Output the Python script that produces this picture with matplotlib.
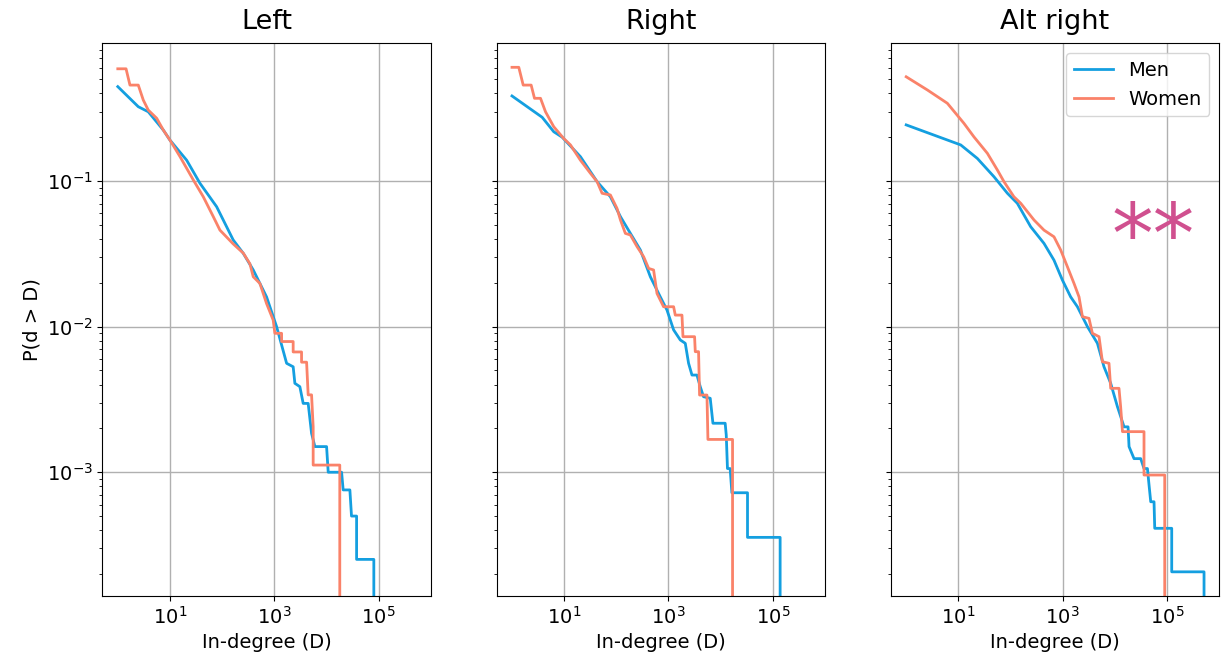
import matplotlib

matplotlib.use("Agg")
import matplotlib.pyplot as plt  # noqa: E402
from matplotlib.ticker import NullLocator  # noqa: E402

MEN_C = "#149fe0"
WOMEN_C = "#fa8269"
BOTTOM = 1e-9  # final drop of each CCDF runs off the bottom of the axes

# ── Left ──
left_men_x = [1, 2.47, 3.84, 7.45, 10, 20.9, 37.6, 78.5, 163, 254, 395, 711, 1107, 1722, 2300,
              2480, 3090, 3580, 4460, 5180, 6000, 10050, 10800, 19500, 20900, 28100, 30200, 37800,
              37800, 80900, 80900]
left_men_y = [0.445, 0.324, 0.299, 0.224, 0.191, 0.139, 0.0965, 0.0666, 0.0394, 0.0319, 0.0245,
              0.016, 0.01, 0.0056, 0.0053, 0.00408, 0.00387, 0.00297, 0.00297, 0.00185, 0.0015,
              0.0015, 0.001, 0.001, 0.000756, 0.000756, 0.0005, 0.0005, 0.000252, 0.000252, BOTTOM]
left_women_x = [1, 1.44, 1.71, 2.47, 3.08, 3.84, 5.56, 7.45, 10, 15.6, 27.9, 43.5, 67.6, 90.8,
                163, 254, 341, 395, 530, 711, 952, 1026, 1380, 1380, 2300, 2300, 3330, 3330, 4160,
                4460, 5180, 5560, 5560, 18000, 18000]
left_women_y = [0.59, 0.59, 0.456, 0.456, 0.36, 0.307, 0.27, 0.224, 0.191, 0.147, 0.102, 0.078,
                0.057, 0.046, 0.037, 0.032, 0.027, 0.022, 0.0198, 0.0144, 0.0111, 0.009, 0.009,
                0.0079, 0.0079, 0.0067, 0.0067, 0.0057, 0.0057, 0.0034, 0.0034, 0.00205, 0.00112,
                0.00112, BOTTOM]

# ── Right ──
right_men_x = [1, 3.79, 6.32, 9.16, 20.5, 42.8, 76.9, 120, 186, 289, 449, 697, 935, 1253, 1682,
               2097, 2427, 2818, 3510, 4060, 4700, 6310, 7110, 12200, 12800, 13500, 15200, 16400,
               32700, 32700, 138000, 138000]
right_men_y = [0.384, 0.274, 0.218, 0.2, 0.147, 0.099, 0.078, 0.0569, 0.0437, 0.0336, 0.022,
               0.016, 0.013, 0.0095, 0.0081, 0.00768, 0.0056, 0.00465, 0.00465, 0.00387, 0.0033,
               0.00322, 0.00217, 0.00217, 0.0018, 0.00106, 0.00106, 0.000723, 0.000723, 0.000357,
               0.000357, BOTTOM]
right_women_x = [1, 1.35, 1.64, 2.33, 2.7, 3.52, 4.39, 6.32, 9.8, 13.2, 20.5, 31.9, 42.8, 53.3,
                 76.9, 103, 120, 149, 186, 250, 334, 416, 518, 602, 805, 1253, 1349, 1812, 1895,
                 3162, 3260, 3770, 3940, 5460, 5700, 16900, 16900]
right_women_y = [0.604, 0.604, 0.456, 0.456, 0.37, 0.37, 0.299, 0.236, 0.196, 0.177, 0.139, 0.113,
                 0.099, 0.0824, 0.0802, 0.0649, 0.054, 0.0437, 0.0426, 0.0354, 0.0302, 0.0251,
                 0.0245, 0.0169, 0.0137, 0.0137, 0.012, 0.012, 0.00853, 0.00853, 0.00673, 0.00673,
                 0.00339, 0.00339, 0.00168, 0.00168, BOTTOM]

# ── Alt right ──
alt_men_x = [1, 11.1, 23.1, 48.2, 87.1, 135, 243, 438, 681, 986, 1422, 1914, 2978, 4630, 6190,
             8320, 11200, 15000, 17900, 18700, 23300, 31300, 36200, 42100, 45200, 48700, 56300,
             58100, 123000, 123000, 512000, 512000]
alt_men_y = [0.243, 0.177, 0.143, 0.107, 0.0824, 0.0703, 0.0486, 0.0373, 0.0286, 0.0209, 0.016,
             0.0137, 0.01, 0.00768, 0.0053, 0.00408, 0.00282, 0.00205, 0.00205, 0.0015, 0.00124,
             0.00124, 0.00106, 0.00106, 0.000817, 0.000627, 0.000627, 0.000412, 0.000412,
             0.000207, 0.000207, BOTTOM]
alt_women_x = [1, 2.55, 6.15, 12.8, 19.9, 36, 56, 74.9, 116, 157, 282, 438, 681, 915, 1230, 1648,
               2056, 2390, 3190, 3710, 4970, 5770, 7720, 8320, 12000, 12900, 14000, 36200, 36200,
               90300, 90300]
alt_women_y = [0.52, 0.422, 0.342, 0.249, 0.201, 0.155, 0.119, 0.099, 0.078, 0.0703, 0.054, 0.046,
               0.0414, 0.0336, 0.0258, 0.0198, 0.016, 0.0117, 0.0114, 0.009, 0.00853, 0.00574,
               0.0056, 0.00377, 0.00377, 0.00282, 0.0019, 0.0019, 0.000957, 0.000957, BOTTOM]

PANELS = [
    ("Left", left_men_x, left_men_y, left_women_x, left_women_y),
    ("Right", right_men_x, right_men_y, right_women_x, right_women_y),
    ("Alt right", alt_men_x, alt_men_y, alt_women_x, alt_women_y),
]
XTICKS = [1e1, 1e3, 1e5]

fig = plt.figure(figsize=(12.26, 6.62), dpi=100)
axes = []
for i in range(3):
    left = (102.3 + i * 394.2) / 1226
    ax = fig.add_axes([left, 0.0997, 328.5 / 1226, 0.8349],
                      sharex=axes[0] if axes else None, sharey=axes[0] if axes else None)
    axes.append(ax)

for ax, (title, mx, my, wx, wy) in zip(axes, PANELS):
    ax.plot(mx, my, color=MEN_C, lw=2, label="Men")
    ax.plot(wx, wy, color=WOMEN_C, lw=2, label="Women")
    ax.set_xscale("log")
    ax.set_yscale("log")
    ax.set_title(title, fontsize=19.5, pad=10)
    ax.set_xlabel("In-degree (D)", fontsize=14)
    ax.tick_params(labelsize=14)

axes[0].set_xticks(XTICKS)
axes[0].xaxis.set_minor_locator(NullLocator())
axes[0].set_xlim(10 ** -0.297, 10 ** 6.0)
axes[0].set_ylim(10 ** -3.85, 10 ** -0.054)
axes[0].set_ylabel("P(d > D)", fontsize=14)
for ax in axes:
    ax.grid(True, which="major", color="#b0b0b0", lw=1)
for ax in axes[1:]:
    ax.tick_params(labelleft=False)

axes[2].legend(loc="upper right", fontsize=14)
axes[2].text(0.80, 0.645, "**", transform=axes[2].transAxes, ha="center", va="center",
             fontsize=60, color="#d0508f")

fig.savefig("out.png", dpi=100)
